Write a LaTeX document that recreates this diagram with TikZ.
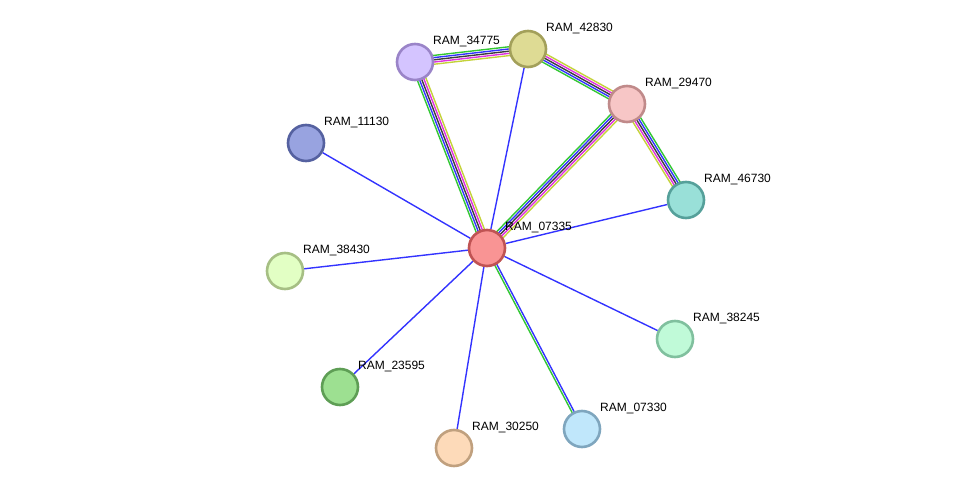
\documentclass[tikz,border=0pt]{standalone}
\usepackage{fontspec}
\setmainfont{Liberation Sans}
\usetikzlibrary{calc,backgrounds}
\definecolor{egreen}{HTML}{33C733}
\definecolor{eblue}{HTML}{3333FF}
\definecolor{eblack}{HTML}{3C3C3C}
\definecolor{emag}{HTML}{E030E0}
\definecolor{eyel}{HTML}{C4D23A}
\tikzset{
  prot/.style={circle,minimum size=36pt,inner sep=0pt,line width=2.6pt},
  lbl/.style={font=\fontsize{12pt}{14pt}\selectfont,anchor=west,inner sep=0pt},
  ed/.style={line width=1.4pt},
}
\newcommand\multiedge[2]{%
  \foreach \c/\o in {egreen/4.4pt,eblue/2.2pt,eblack/0pt,emag/-2.2pt,eyel/-4.4pt}{
    \draw[ed,draw=\c] ($(#1)!\o!90:(#2)$) -- ($(#2)!\o!-90:(#1)$);
  }}
\newcommand\protnode[6]{%
  \definecolor{pf#1}{HTML}{#4}\definecolor{pd#1}{HTML}{#5}%
  \node[prot,fill=pf#1,draw=pd#1] (#1) at (#2,#3) {};
  \node[lbl] (l#1) at ($(#1)+(18,-20)$) {#6};}
\begin{document}
\begin{tikzpicture}[x=1pt,y=-1pt]
\useasboundingbox (0,0) rectangle (975,494);
\protnode{n07335}{487}{248}{F99494}{C05353}{RAM\_07335}
\protnode{n34775}{415}{62}{D4C4FF}{9A84C8}{RAM\_34775}
\protnode{n42830}{528}{49}{DEDB94}{A3A05A}{RAM\_42830}
\protnode{n29470}{627}{104}{F7C6C6}{C08A8A}{RAM\_29470}
\protnode{n46730}{686}{200}{99E0D8}{55A09A}{RAM\_46730}
\protnode{n11130}{306}{143}{98A3E0}{5561A0}{RAM\_11130}
\protnode{n38430}{285}{271}{E2FFC4}{A6BF84}{RAM\_38430}
\protnode{n23595}{340}{387}{9DE091}{5E9E55}{RAM\_23595}
\protnode{n30250}{454}{448}{FDDAB9}{C0A07E}{RAM\_30250}
\protnode{n07330}{582}{429}{C0E7FB}{7FA6BE}{RAM\_07330}
\protnode{n38245}{675}{339}{C0FAD8}{80C09E}{RAM\_38245}
\begin{scope}[on background layer]
  \multiedge{n34775}{n42830}
  \multiedge{n07335}{n34775}
  \multiedge{n07335}{n29470}
  \multiedge{n29470}{n42830}
  \multiedge{n29470}{n46730}
  \draw[ed,draw=egreen] ($(n07330)!1.1pt!90:(n07335)$) -- ($(n07335)!1.1pt!-90:(n07330)$);
  \draw[ed,draw=eblue] ($(n07330)!-1.1pt!90:(n07335)$) -- ($(n07335)!-1.1pt!-90:(n07330)$);
  \foreach \t in {n11130,n38430,n23595,n30250,n38245,n46730,n42830}{
    \draw[ed,draw=eblue] (n07335) -- (\t);
  }
\end{scope}
\end{tikzpicture}
\end{document}
